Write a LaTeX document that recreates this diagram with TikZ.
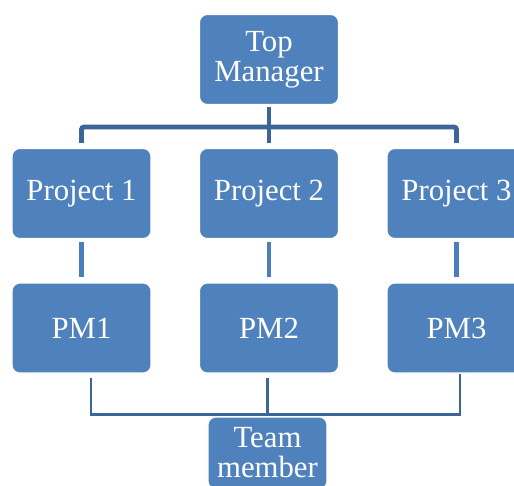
\documentclass[tikz,border=0pt]{standalone}
\usepackage{fontspec}
\setmainfont{Liberation Serif}
\definecolor{boxblue}{HTML}{4F81BD}
\definecolor{barblue}{HTML}{4A7EBB}
\definecolor{linkblue}{HTML}{3C6598}
\tikzset{
  orgbox/.style={draw=white, line width=.6pt, fill=boxblue, text=white,
    rounded corners=4.5pt, align=center, inner sep=0pt,
    minimum width=2.78cm, minimum height=1.8cm,
    font=\fontsize{17.5}{17}\selectfont},
  topbus/.style={draw=linkblue, line width=2.8pt, rounded corners=1.5pt},
  midbar/.style={draw=barblue, line width=2.8pt, shorten <=.06cm, shorten >=.1cm},
  teambus/.style={draw=linkblue, line width=1.3pt, shorten <=.08cm}
}
\begin{document}
\begin{tikzpicture}[x=0.02cm, y=-0.02cm]
   \clip (0,0) rectangle (514,485);
   \fill[white] (0,0) rectangle (514,485);

   % boxes
   \node[orgbox] (top) at (269,59.5) {Top\\Manager};
   \node[orgbox] (p1) at (81.5,193.5) {Project 1};
   \node[orgbox] (p2) at (269,193.5) {Project 2};
   \node[orgbox] (p3) at (456.5,193.5) {Project 3};
   \node[orgbox] (pm1) at (81.5,328) {PM1};
   \node[orgbox] (pm2) at (269,328) {PM2};
   \node[orgbox] (pm3) at (456.5,328) {PM3};
   \node[orgbox, minimum width=2.38cm, minimum height=1.44cm] (team) at (267.5,453) {Team\\member};

   % top manager to projects
   \coordinate (busT) at (269,127);
   \draw[topbus, shorten <=.04cm, shorten >=.1cm] (top.south) -- (p2.north);
   \draw[topbus, shorten <=.1cm, shorten >=.1cm] (p1.north) |- (busT) -| (p3.north);

   % projects to PMs
   \draw[midbar] (p1.south) -- (pm1.north);
   \draw[midbar] (p2.south) -- (pm2.north);
   \draw[midbar] (p3.south) -- (pm3.north);

   % PMs to team member
   \draw[teambus] ([xshift=.19cm]pm1.south) |- ([yshift=.04cm]team.north)
      -| ([xshift=.07cm]pm3.south);
   \draw[teambus] (pm2.south -| team.north) -- ([yshift=.04cm]team.north);
\end{tikzpicture}
\end{document}
